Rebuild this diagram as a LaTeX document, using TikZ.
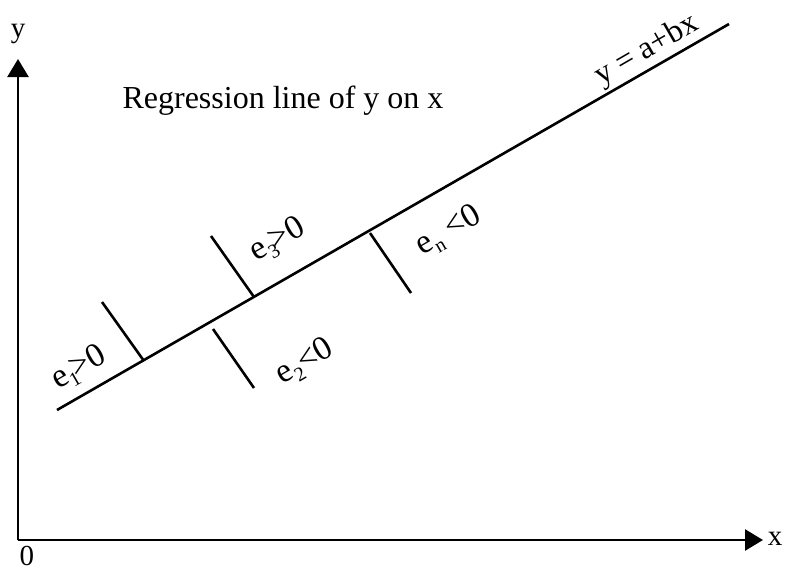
\documentclass[tikz,border=0pt]{standalone}
\usepackage{fontspec}
\setmainfont{Liberation Serif}
\usetikzlibrary{arrows.meta}
\tikzset{
  axis/.style={line width=2.6pt,-{Triangle[length=18pt,width=21pt]}},
  regline/.style={line width=2.6pt},
  resid/.style={line width=2.6pt},
  lbl/.style={inner sep=0pt,font=\fontsize{29}{32}\selectfont},
  elbl/.style={inner sep=0pt,rotate=30,font=\fontsize{34}{36}\selectfont},
}
\newcommand{\esub}[1]{e\raisebox{-0.4ex}{\fontsize{20}{21}\selectfont #1}}
\begin{document}
\begin{tikzpicture}[x=1pt,y=-1pt]
\useasboundingbox (0,0) rectangle (786,571);
\coordinate (O) at (18,540);
\coordinate (Ytip) at (18,59);
\coordinate (Xtip) at (763,540);
\draw[axis] (O) -- (Ytip);
\draw[axis] (O) -- (Xtip);
\node[lbl] (ylab) at (18,34) {y};
\node[lbl] (xlab) at (775,539) {x};
\node[lbl] (zero) at (27,556) {0};
% regression line
\coordinate (A) at (57,410);
\coordinate (B) at (729,24);
\draw[regline] (A) -- (B);
% residuals
\coordinate (p1) at (144,361);
\coordinate (q1) at (102,302);
\coordinate (p3) at (254,297);
\coordinate (q3) at (211,236);
\coordinate (p2) at (213,329);
\coordinate (q2) at (254,388);
\coordinate (pn) at (370,233);
\coordinate (qn) at (411,293);
\draw[resid] (p1) -- (q1);
\draw[resid] (p3) -- (q3);
\draw[resid] (p2) -- (q2);
\draw[resid] (pn) -- (qn);
% labels
\node[lbl,font=\fontsize{32}{35}\selectfont] (title) at (283,101) {Regression line of y on x};
\node[elbl,font=\fontsize{32}{34}\selectfont] (eqlab) at (647,50) {y = a+bx};
\node[elbl] (e1lab) at (79,368) {\esub{1}\kern-0.1em>0};
\node[elbl] (e3lab) at (278,240) {\esub{3}\kern-0.1em>0};
\node[elbl] (e2lab) at (305,362) {\esub{2}\kern-0.02em<0};
\node[elbl] (enlab) at (449,231) {\esub{n} <0};
\end{tikzpicture}
\end{document}
